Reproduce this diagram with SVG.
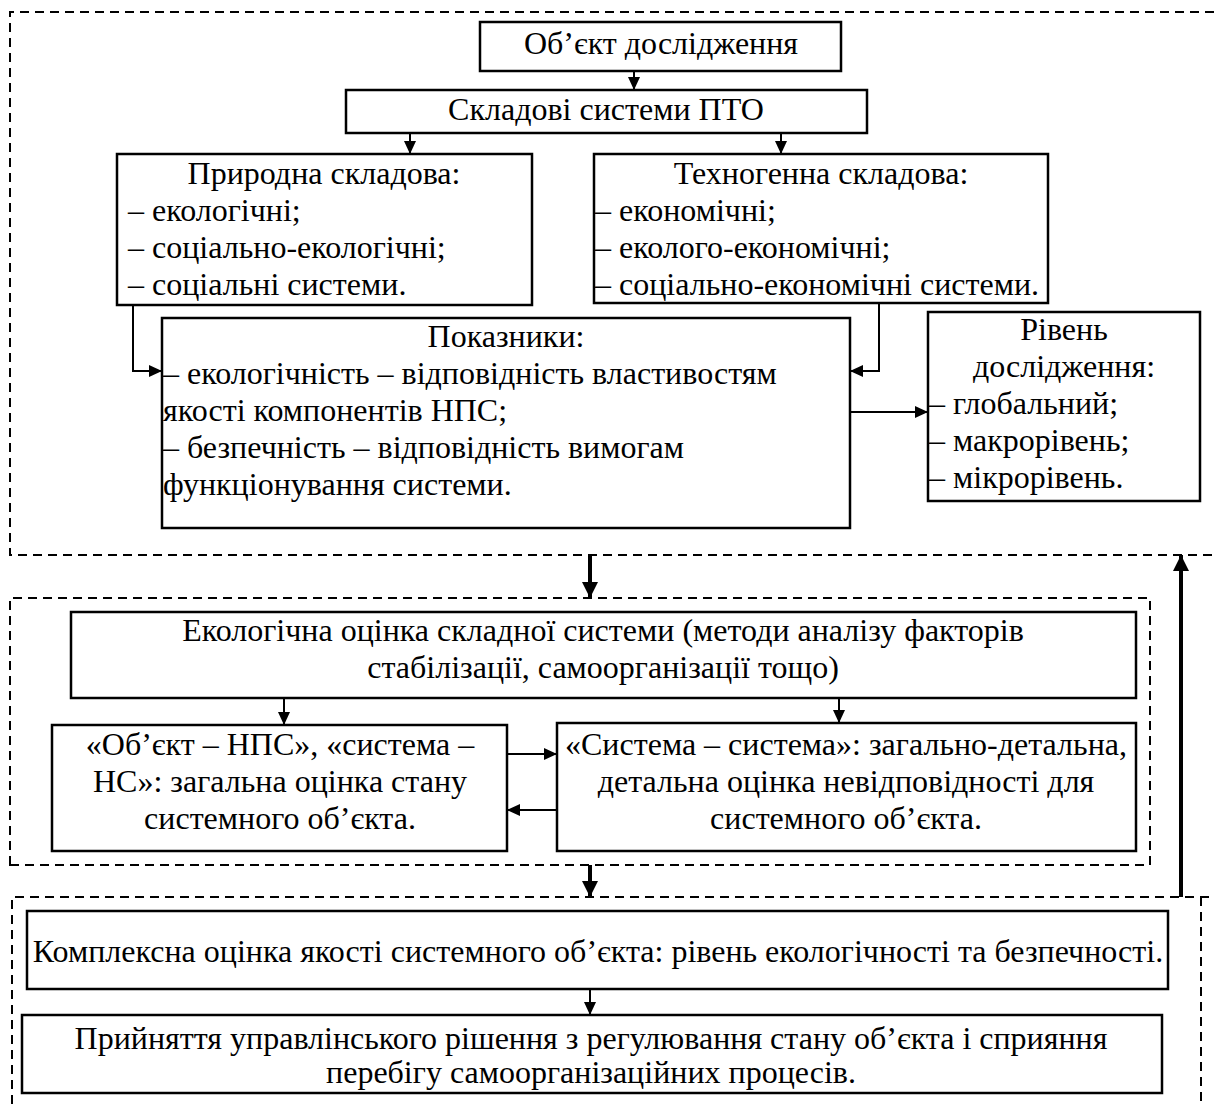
<svg xmlns="http://www.w3.org/2000/svg" width="1214" height="1104" viewBox="0 0 1214 1104">
<defs>
<marker id="a" markerUnits="userSpaceOnUse" markerWidth="13" markerHeight="12" refX="13" refY="6" orient="auto"><path d="M0,0 L13,6 L0,12 z" fill="#000"/></marker>
<marker id="b" markerUnits="userSpaceOnUse" markerWidth="16" markerHeight="16" refX="16" refY="8" orient="auto"><path d="M0,0 L16,8 L0,16 z" fill="#000"/></marker>
</defs>
<style>
.box{fill:#fff;stroke:#000;stroke-width:2.5}
.dash{fill:none;stroke:#000;stroke-width:2;stroke-dasharray:9 6}
.t{font-family:"Liberation Serif","Times New Roman",serif;font-size:32px;fill:#000}
.c{text-anchor:middle}
.ln{fill:none;stroke:#000;stroke-width:2;marker-end:url(#a)}
.thick{fill:none;stroke:#000;stroke-width:4;marker-end:url(#b)}
</style>
<rect width="1214" height="1104" fill="#fff"/>
<g id="frames">
<path class="dash" d="M1214,12 H10 V555 H1214"/>
<path class="dash" d="M10,865 V598 H1150 V865 Z"/>
<path class="dash" d="M12,1104 V897 H1214 M1201,897 V1104"/>
</g>
<g id="n1"><rect class="box" x="480" y="22" width="361" height="49"/><text class="t c" x="661" y="54">Об’єкт дослідження</text></g>
<g id="n2"><rect class="box" x="346" y="90" width="521" height="43"/><text class="t c" x="606" y="120">Складові системи ПТО</text></g>
<g id="n3"><rect class="box" x="117" y="154" width="415" height="151"/>
<text class="t c" x="324" y="184">Природна складова:</text>
<text class="t" x="128" y="221">– екологічні;</text>
<text class="t" x="128" y="258">– соціально-екологічні;</text>
<text class="t" x="128" y="295">– соціальні системи.</text></g>
<g id="n4"><rect class="box" x="594" y="154" width="454" height="149"/>
<text class="t c" x="821" y="184">Техногенна складова:</text>
<text class="t" x="595" y="221">– економічні;</text>
<text class="t" x="595" y="258">– еколого-економічні;</text>
<text class="t" x="595" y="295">– соціально-економічні системи.</text></g>
<g id="n5"><rect class="box" x="162" y="318" width="688" height="210"/>
<text class="t c" x="506" y="347">Показники:</text>
<text class="t" x="163" y="384">– екологічність – відповідність властивостям</text>
<text class="t" x="163" y="421">якості компонентів НПС;</text>
<text class="t" x="163" y="458">– безпечність – відповідність вимогам</text>
<text class="t" x="163" y="495">функціонування системи.</text></g>
<g id="n6"><rect class="box" x="928" y="312" width="272" height="189"/>
<text class="t c" x="1064" y="340">Рівень</text>
<text class="t c" x="1064" y="377">дослідження:</text>
<text class="t" x="929" y="414">– глобальний;</text>
<text class="t" x="929" y="451">– макрорівень;</text>
<text class="t" x="929" y="488">– мікрорівень.</text></g>
<g id="n7"><rect class="box" x="71" y="612" width="1065" height="86"/>
<text class="t c" x="603" y="641">Екологічна оцінка складної системи (методи аналізу факторів</text>
<text class="t c" x="603" y="678">стабілізації, самоорганізації тощо)</text></g>
<g id="n8"><rect class="box" x="52" y="725" width="455" height="126"/>
<text class="t c" x="280" y="755">«Об’єкт – НПС», «система –</text>
<text class="t c" x="280" y="792">НС»: загальна оцінка стану</text>
<text class="t c" x="280" y="829">системного об’єкта.</text></g>
<g id="n9"><rect class="box" x="557" y="723" width="579" height="128"/>
<text class="t c" x="846" y="755">«Система – система»: загально-детальна,</text>
<text class="t c" x="846" y="792">детальна оцінка невідповідності для</text>
<text class="t c" x="846" y="829">системного об’єкта.</text></g>
<g id="n10"><rect class="box" x="27" y="911" width="1141" height="78"/>
<text class="t c" x="598" y="962">Комплексна оцінка якості системного об’єкта: рівень екологічності та безпечності.</text></g>
<g id="n11"><rect class="box" x="22" y="1015" width="1140" height="78"/>
<text class="t c" x="591" y="1049">Прийняття управлінського рішення з регулювання стану об’єкта і сприяння</text>
<text class="t c" x="591" y="1083">перебігу самоорганізаційних процесів.</text></g>
<g id="connectors">
<path class="ln" d="M634,71 V90"/>
<path class="ln" d="M410,133 V154"/>
<path class="ln" d="M781,133 V154"/>
<path class="ln" d="M133,305 V371 H162"/>
<path class="ln" d="M879,303 V371 H850"/>
<path class="ln" d="M850,412 H928"/>
<path class="ln" d="M284,698 V725"/>
<path class="ln" d="M839,698 V723"/>
<path class="ln" d="M507,754 H557"/>
<path class="ln" d="M557,810 H507"/>
<path class="ln" d="M590,989 V1015"/>
<path class="thick" d="M590,555 V598"/>
<path class="thick" d="M590,865 V897"/>
<path class="thick" d="M1181,897 V555"/>
</g>
</svg>
